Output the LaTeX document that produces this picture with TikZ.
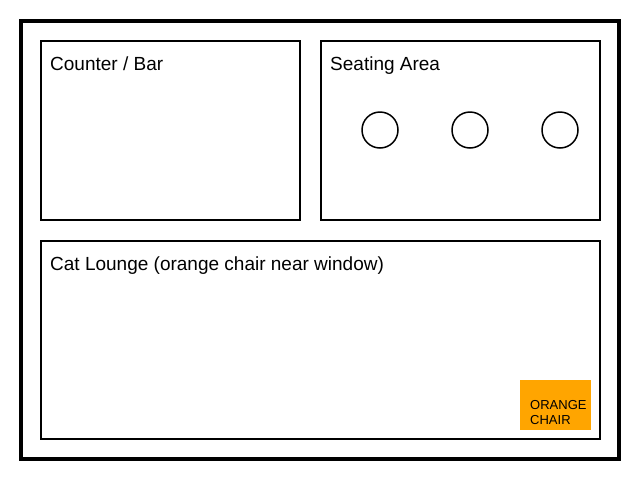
\documentclass[tikz,border=0pt]{standalone}
\usepackage{fontspec}
\setmainfont{Liberation Sans}
\begin{document}
\begin{tikzpicture}[x=1pt,y=-1pt,
  room/.style={draw=black,line width=2pt,inner sep=0pt,outer sep=0pt,anchor=north west},
  label/.style={anchor=base west,inner sep=0pt,font=\fontsize{19}{22}\selectfont},
  table/.style={draw=black,line width=1.5pt,circle,minimum size=36pt,inner sep=0pt},
  chair/.style={fill=orange,draw=none,minimum width=71pt,minimum height=50pt,inner sep=0pt,outer sep=0pt}]
\useasboundingbox (0,0) rectangle (640,480);
\definecolor{orange}{HTML}{FFA500}
\draw[line width=4pt] (21,21) rectangle (619,459);
\node[room,minimum width=259pt,minimum height=179pt] (counter) at (41,41) {};
\node[room,minimum width=279pt,minimum height=179pt] (seating) at (321,41) {};
\node[room,minimum width=559pt,minimum height=198pt] (lounge) at (41,241) {};
\node[label] (lc) at (50,70) {Counter / Bar};
\node[label] (ls) at (330,70) {Seating Area};
\node[label] (ll) at (50,270) {Cat Lounge (orange chair near window)};
\node[table] (t1) at (380,130) {};
\node[table] (t2) at (470,130) {};
\node[table] (t3) at (560,130) {};
\node[chair,anchor=north west] (oc) at (520,380) {};
\node[anchor=base west,inner sep=0pt,align=left,font=\fontsize{13}{15}\selectfont] (octext) at (530,424) {ORANGE\\CHAIR};
\end{tikzpicture}
\end{document}
